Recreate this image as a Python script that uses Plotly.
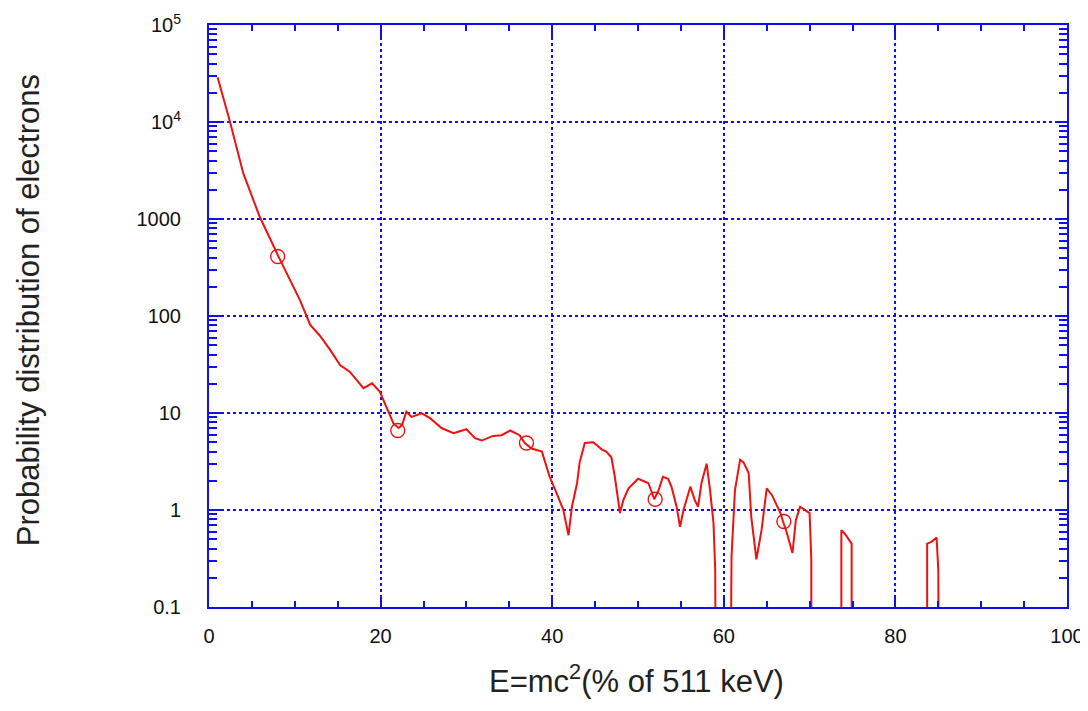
import plotly.graph_objects as go

# Curve (E in % of 511 keV, probability distribution)
energy = [1.0, 1.5, 2.45, 4.0, 5.9, 8.1, 10.6, 11.8, 12.9, 14.1, 15.3, 16.4, 18.0, 19.0, 19.9,
          21.5, 22.1, 22.5, 23.0, 23.6, 24.8, 25.8, 27.1, 28.5, 30.0, 31.0, 31.8, 33.1, 34.1,
          35.1, 36.2, 36.8, 37.6, 38.8, 39.7, 40.5, 41.3, 41.9, 42.3, 42.9, 43.2, 43.8, 44.8,
          45.8, 46.3, 46.9, 47.3, 47.9, 48.3, 48.9, 50.0, 51.2, 51.9, 52.4, 52.9, 53.5, 53.9,
          54.5, 54.9, 55.3, 56.1, 56.6, 57.0, 57.4, 58.0, 58.4, 58.8, 59.0, 59.1,
          60.7, 60.9, 61.3, 61.9, 62.3, 62.9, 63.2, 63.8, 64.4, 65.0, 65.6, 66.6, 66.9, 67.3,
          68.0, 68.4, 68.9, 69.7, 70.0, 70.2, 70.2,
          73.7, 73.7, 74.1, 74.7, 74.9, 74.9,
          83.7, 83.7, 84.2, 84.8, 85.0, 85.1]
prob = [29000, 20000, 10000, 2950, 1060, 410, 146, 81, 63, 45, 31, 26.7, 18, 20.2, 16.6,
        7.8, 7.0, 7.5, 10.3, 9.1, 9.9, 8.8, 7.0, 6.2, 6.8, 5.5, 5.2, 5.8, 5.9,
        6.6, 5.9, 4.9, 4.3, 4.0, 2.2, 1.5, 1.0, 0.55, 1.08, 1.9, 3.1, 4.9, 5.0,
        4.2, 4.0, 3.5, 2.2, 0.93, 1.27, 1.67, 2.1, 1.9, 1.29, 1.6, 2.2, 2.1, 1.74,
        1.08, 0.67, 1.0, 1.74, 1.27, 1.08, 1.9, 3.0, 1.6, 0.73, 0.24, 0.001,
        0.001, 0.33, 1.6, 3.3, 3.1, 2.4, 0.85, 0.31, 0.62, 1.67, 1.43, 0.93, 0.76, 0.6,
        0.36, 0.79, 1.08, 0.96, 0.93, 0.31, 0.001,
        0.001, 0.62, 0.57, 0.47, 0.45, 0.001,
        0.001, 0.45, 0.47, 0.52, 0.24, 0.001]

# Circle markers
marker_x = [8, 22, 37, 52, 67]
marker_y = [410, 6.6, 4.9, 1.29, 0.76]

ytick_vals = [0.1, 1, 10, 100, 1000, 1e4, 1e5]
ytick_text = ["0.1", "1", "10", "100", "1000", "10<sup>4</sup>", "10<sup>5</sup>"]
xtick_vals = [0, 20, 40, 60, 80, 100]

x_title = "E=mc<sup>2</sup>(% of 511 keV)"
y_title = "Probability distribution of electrons"

blue = "#1010ee"
red = "#ee1111"
font_family = "Liberation Sans, Arial, sans-serif"

fig = go.Figure()
fig.add_trace(go.Scatter(x=energy, y=prob, mode="lines",
                         line=dict(color=red, width=2), showlegend=False))
fig.add_trace(go.Scatter(x=marker_x, y=marker_y, mode="markers",
                         marker=dict(symbol="circle-open", size=14, color=red,
                                     line=dict(width=1.4, color=red)),
                         showlegend=False))

fig.update_layout(
    width=1080, height=694,
    margin=dict(l=201, r=21, t=17, b=95),
    paper_bgcolor="white", plot_bgcolor="white",
    font=dict(family=font_family, color="#111111"),
    annotations=[
        dict(text=x_title, xref="paper", yref="paper", x=0.498, y=-0.124,
             showarrow=False, font=dict(size=31, family=font_family, color="#222222"),
             xanchor="center", yanchor="middle", borderpad=0),
        dict(text=y_title, xref="paper", yref="paper", x=-0.211, y=0.51,
             showarrow=False, textangle=-90,
             font=dict(size=31, family=font_family, color="#222222"),
             xanchor="center", yanchor="middle"),
    ],
)
fig.update_xaxes(
    range=[0, 100], tickvals=xtick_vals, automargin=False,
    ticks="inside", ticklen=12, tickwidth=2, tickcolor=blue,
    minor=dict(ticks="inside", ticklen=6, tickwidth=2, tickcolor=blue, dtick=5, showgrid=False),
    showline=True, linecolor=blue, linewidth=2, mirror="ticks",
    showgrid=True, gridcolor=blue, gridwidth=1.6, griddash="dot",
    zeroline=False, ticklabelstandoff=10,
    tickfont=dict(size=20, family=font_family, color="#111111"),
)
fig.update_yaxes(
    type="log", range=[-1, 5], tickvals=ytick_vals, ticktext=ytick_text, automargin=False,
    ticks="inside", ticklen=12, tickwidth=2, tickcolor=blue,
    minor=dict(ticks="inside", ticklen=8, tickwidth=2, tickcolor=blue, dtick="D1", showgrid=False),
    showline=True, linecolor=blue, linewidth=2, mirror="ticks",
    showgrid=True, gridcolor=blue, gridwidth=1.6, griddash="dot",
    zeroline=False, ticklabelstandoff=22,
    tickfont=dict(size=20, family=font_family, color="#111111"),
)

fig.write_html("out.html")
